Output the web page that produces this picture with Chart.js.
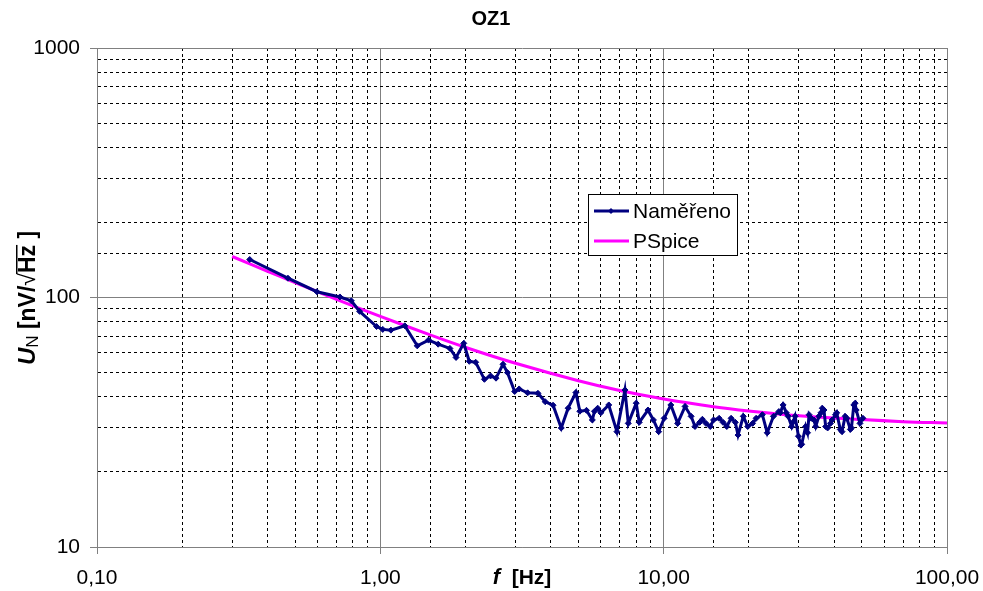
<!DOCTYPE html>
<html>
<head>
<meta charset="utf-8">
<script src="https://cdn.jsdelivr.net/npm/chart.js@4.4.1/dist/chart.umd.min.js"></script>
<style>
  html, body { margin: 0; padding: 0; background: #fff; }
  #chart-oz1 { display: block; }
</style>
</head>
<body>
<canvas id="chart-oz1" width="983" height="591"></canvas>
<script>
const chartTitle = 'OZ1';
const seriesLabels = ['Naměřeno', 'PSpice'];

// measured noise density [nV/sqrt(Hz)] vs frequency [Hz]
const freqMeasured = [
  0.346, 0.472, 0.597, 0.72, 0.79, 0.845, 0.97, 1.02, 1.09, 1.22,
  1.35, 1.48, 1.6, 1.76, 1.85, 1.97, 2.06, 2.17, 2.33, 2.45,
  2.56, 2.71, 2.81, 2.98, 3.09, 3.31, 3.6, 3.82, 4.07, 4.35,
  4.6, 4.9, 5.06, 5.34, 5.6, 5.7, 5.85, 6.0, 6.4, 6.84,
  7.3, 7.5, 8.0, 8.2, 8.8, 9.2, 9.6, 10.04, 10.6, 11.2,
  11.9, 12.5, 12.9, 13.4, 13.7, 14.1, 14.6, 15.0, 15.7, 16.2,
  16.7, 17.3, 17.9, 18.3, 19.1, 19.8, 20.6, 21.2, 22.3, 23.2,
  24.4, 25.5, 25.8, 26.4, 27.1, 27.5, 28.3, 28.6, 29.1, 29.9,
  30.5, 30.7, 31.7, 32.2, 32.6, 33.2, 33.9, 34.4, 35.3, 35.9,
  36.3, 36.8, 37.3, 37.9, 38.8, 39.3, 40.4, 40.8, 42.0, 42.6,
  43.7, 44.3, 45.6, 46.0, 46.9, 47.4, 47.8, 49.3, 50.5
];
const noiseMeasured = [
  142, 119.5, 105.5, 100.5, 97, 88, 76.5, 74.5, 74, 77,
  64, 67.5, 65, 62.5, 57.5, 65.5, 55.5, 55, 47, 48.5,
  47.5, 54, 50, 42, 43, 41.5, 41.3, 38.2, 37, 30,
  36, 41.6, 35, 35.3, 32.3, 35, 36, 34.5, 37.1, 29,
  42.6, 31.3, 37.7, 31.6, 35.4, 32.3, 29, 32.8, 37.1, 31.3,
  36.6, 33.4, 30.4, 31.6, 32.5, 31.3, 30.4, 32.3, 32.8, 31.6,
  30.4, 32.8, 31.6, 28.1, 33.4, 30.4, 31.3, 32.8, 33.9, 28.7,
  33.4, 34.9, 34.5, 37.1, 34.5, 33.4, 30.4, 31.6, 33.4, 27.8,
  25.6, 25.8, 30.4, 28.7, 33.9, 32.8, 32.3, 30.4, 33.4, 34.5,
  36, 35.4, 30.4, 30, 31.3, 32.3, 33.9, 34.5, 29.6, 29,
  33.4, 32.8, 29.6, 30, 37.1, 37.7, 35.4, 31.3, 32.8
];

// PSpice simulated curve
const freqSpice = [0.3, 0.4, 0.5, 0.7, 1, 1.5, 2, 3, 5, 7, 10, 15, 20, 30, 50, 70, 100];
const noiseSpice = [146, 127.4, 114.8, 98.3, 84, 70.8, 63.1, 54.5, 46.4, 42.4, 39.2, 36.5, 35.1, 33.6, 32.4, 31.8, 31.4];

const xMajorTicks = [0.1, 1, 10, 100];
const xTickLabels = ['0,10', '1,00', '10,00', '100,00'];
const yMajorTicks = [10, 100, 1000];
const yTickLabels = ['10', '100', '1000'];

const fontFamily = "'Liberation Sans', Arial, sans-serif";

function isMajor(v) {
  const l = Math.log10(v);
  return Math.abs(l - Math.round(l)) < 1e-6;
}

function majorLabel(value, majors, labels) {
  for (let i = 0; i < majors.length; i++) {
    if (Math.abs(majors[i] - value) < majors[i] * 1e-6) return labels[i];
  }
  return '';
}

const gridColor = ctx => (ctx.tick && isMajor(ctx.tick.value)) ? '#808080' : '#000000';
const tickMarkColor = ctx => (ctx.tick && isMajor(ctx.tick.value)) ? '#808080' : 'rgba(0,0,0,0)';
const gridDash = ctx => (ctx.tick && !isMajor(ctx.tick.value)) ? [3, 3] : [];

// titles and the boxed legend are drawn by hand
const decorations = {
  id: 'decorations',
  afterDraw(chart) {
    const ctx = chart.ctx;
    ctx.save();
    ctx.fillStyle = '#000';

    // chart title
    ctx.font = 'bold 20px ' + fontFamily;
    ctx.textAlign = 'center';
    ctx.textBaseline = 'middle';
    ctx.fillText(chartTitle, 491, 19);

    // x axis title: italic f + [Hz]
    const area = chart.chartArea;
    const xc = (area.left + area.right) / 2;
    ctx.textAlign = 'left';
    ctx.font = 'italic bold 22px ' + fontFamily;
    const wf = ctx.measureText('f').width;
    ctx.font = 'bold 21px ' + fontFamily;
    const wHz = ctx.measureText('  [Hz]').width;
    let x0 = xc - (wf + wHz) / 2;
    ctx.font = 'italic bold 22px ' + fontFamily;
    ctx.fillText('f', x0, 578);
    ctx.font = 'bold 21px ' + fontFamily;
    ctx.fillText('  [Hz]', x0 + wf, 578);

    // y axis title: U_N [nV/sqrt(Hz)]
    ctx.save();
    ctx.translate(27, 298);
    ctx.rotate(-Math.PI / 2);
    ctx.textBaseline = 'alphabetic';
    const parts = [
      { t: 'U', f: 'italic bold 24px ', dy: 0 },
      { t: 'N', f: '17px ', dy: 3 },
      { t: ' [nV/', f: 'bold 23px ', dy: 0 },
      { t: '\u221A', f: '23px ', dy: 0 },
      { t: 'Hz', f: 'bold 23px ', dy: 0, over: true },
      { t: ' ]', f: 'bold 23px ', dy: 0 }
    ];
    let total = 0;
    parts.forEach(p => { ctx.font = p.f + fontFamily; p.w = ctx.measureText(p.t).width; total += p.w; });
    let px = -total / 2;
    const base = 8;
    parts.forEach(p => {
      ctx.font = p.f + fontFamily;
      ctx.fillText(p.t, px, base + p.dy);
      if (p.over) {
        ctx.fillRect(px - 1, base - 19, p.w + 1, 1.5);
      }
      px += p.w;
    });
    ctx.restore();

    // legend box
    const lx = 588, ly = 194, lw = 149, lh = 61;
    ctx.fillStyle = '#fff';
    ctx.fillRect(lx, ly, lw, lh);
    ctx.strokeStyle = '#000';
    ctx.lineWidth = 1;
    ctx.strokeRect(lx + 0.5, ly + 0.5, lw, lh);

    const rows = [211, 241];
    chart.data.datasets.forEach((ds, i) => {
      const y = rows[i];
      ctx.strokeStyle = ds.borderColor;
      ctx.lineWidth = ds.borderWidth;
      ctx.beginPath();
      ctx.moveTo(594, y);
      ctx.lineTo(629, y);
      ctx.stroke();
      if (ds.pointRadius > 0) {
        ctx.fillStyle = ds.borderColor;
        ctx.beginPath();
        ctx.moveTo(611, y - 3);
        ctx.lineTo(614, y);
        ctx.lineTo(611, y + 3);
        ctx.lineTo(608, y);
        ctx.closePath();
        ctx.fill();
      }
      ctx.fillStyle = '#000';
      ctx.font = '21px ' + fontFamily;
      ctx.textAlign = 'left';
      ctx.textBaseline = 'middle';
      ctx.fillText(ds.label, 633, y + 1);
    });

    ctx.restore();
  }
};

const data = {
  datasets: [
    {
      label: seriesLabels[0],
      data: freqMeasured.map((f, i) => ({ x: f, y: noiseMeasured[i] })),
      borderColor: '#000080',
      backgroundColor: '#000080',
      borderWidth: 3,
      pointStyle: 'rectRot',
      pointRadius: 3,
      pointBorderWidth: 1,
      tension: 0
    },
    {
      label: seriesLabels[1],
      data: freqSpice.map((f, i) => ({ x: f, y: noiseSpice[i] })),
      borderColor: '#FF00FF',
      backgroundColor: '#FF00FF',
      borderWidth: 3,
      pointRadius: 0,
      tension: 0.4
    }
  ]
};

new Chart(document.getElementById('chart-oz1'), {
  type: 'line',
  data: data,
  plugins: [decorations],
  options: {
    responsive: false,
    animation: false,
    layout: { padding: { top: 48, right: 36, bottom: 0, left: 0 } },
    plugins: {
      legend: { display: false },
      title: { display: false },
      tooltip: { enabled: false }
    },
    scales: {
      x: {
        type: 'logarithmic',
        min: 0.1,
        max: 100,
        afterFit(scale) {
          scale.height = 44;
          scale.paddingLeft = 0;
          scale.paddingRight = 0;
        },
        grid: { color: gridColor, lineWidth: 1, tickLength: 7, tickColor: tickMarkColor },
        border: { display: true, color: '#808080', width: 1, dash: gridDash },
        ticks: {
          autoSkip: false,
          maxRotation: 0,
          padding: 12,
          color: '#000',
          font: { family: fontFamily, size: 21 },
          callback: value => majorLabel(value, xMajorTicks, xTickLabels)
        }
      },
      y: {
        type: 'logarithmic',
        min: 10,
        max: 1000,
        afterFit(scale) {
          scale.width = 97;
          scale.paddingTop = 0;
          scale.paddingBottom = 0;
        },
        grid: { color: gridColor, lineWidth: 1, tickLength: 7, tickColor: tickMarkColor },
        border: { display: true, color: '#808080', width: 1, dash: gridDash },
        ticks: {
          autoSkip: false,
          padding: 10,
          color: '#000',
          font: { family: fontFamily, size: 21 },
          callback: value => majorLabel(value, yMajorTicks, yTickLabels)
        }
      }
    }
  }
});
</script>
</body>
</html>
